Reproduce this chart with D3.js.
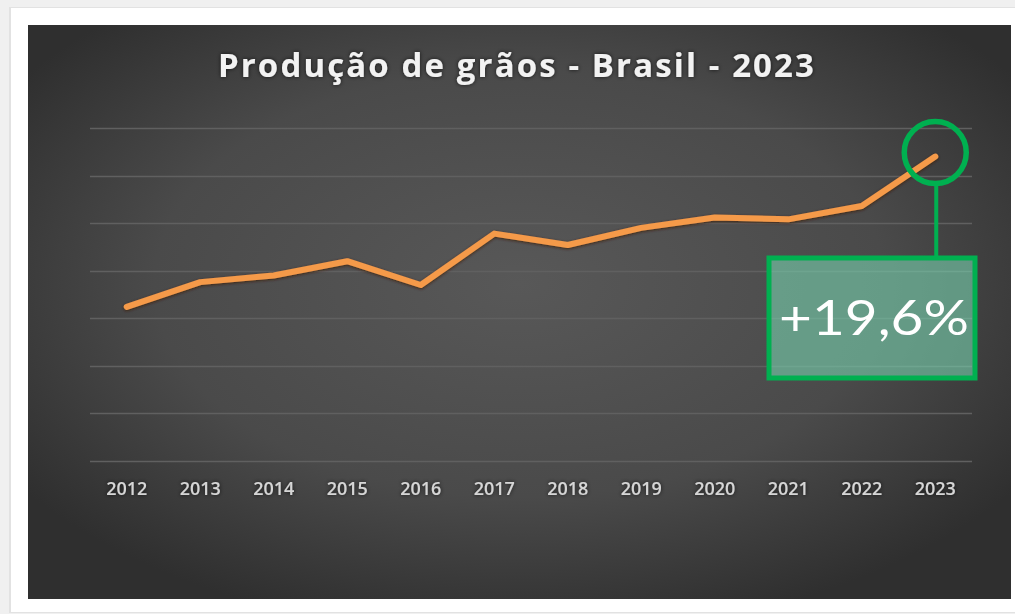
<!DOCTYPE html>
<html>
<head>
<meta charset="utf-8">
<script src="https://cdn.jsdelivr.net/npm/d3@7"></script>
<style>
  html, body { margin: 0; padding: 0; background: #f0f0f0; }
  svg { display: block; }
</style>
</head>
<body>
<div id="chart"></div>
<script>
// Data (million tonnes, approx.)
var years = ["2012", "2013", "2014", "2015", "2016", "2017", "2018", "2019", "2020", "2021", "2022", "2023"];
var production = [162, 188, 195, 210, 185, 239, 227, 245, 256, 254, 268, 320];
var gridValues = [0, 50, 100, 150, 200, 250, 300, 350];
var title = "Produção de grãos - Brasil - 2023";
var growthLabel = "+19,6%";

var width = 1015, height = 614;

var svg = d3.select("#chart")
  .append("svg")
  .attr("width", width)
  .attr("height", height);

var defs = svg.append("defs");

var bg = defs.append("radialGradient")
  .attr("id", "bgGrad")
  .attr("cx", "50%").attr("cy", "45%").attr("r", "62%");
bg.append("stop").attr("offset", "0%").attr("stop-color", "#585858");
bg.append("stop").attr("offset", "60%").attr("stop-color", "#4a4a4a");
bg.append("stop").attr("offset", "100%").attr("stop-color", "#2f2f2f");

var glow = defs.append("filter").attr("id", "glow")
  .attr("x", "-10%").attr("y", "-30%").attr("width", "120%").attr("height", "160%");
glow.append("feDropShadow")
  .attr("dx", 0).attr("dy", 0).attr("stdDeviation", 2)
  .attr("flood-color", "#000").attr("flood-opacity", 0.7);

var lineShadow = defs.append("filter").attr("id", "lineShadow")
  .attr("x", "-5%").attr("y", "-20%").attr("width", "110%").attr("height", "140%");
lineShadow.append("feDropShadow")
  .attr("dx", 0).attr("dy", 1).attr("stdDeviation", 1.5)
  .attr("flood-color", "#3a1d05").attr("flood-opacity", 0.8);

// page card
svg.append("rect")
  .attr("x", 9).attr("y", 7).attr("width", 1010).attr("height", 606)
  .attr("fill", "#e2e2e2");
svg.append("rect")
  .attr("x", 11).attr("y", 8).attr("width", 1006).attr("height", 604)
  .attr("fill", "#ffffff");

// dark chart area
svg.append("rect")
  .attr("x", 28).attr("y", 25).attr("width", 983).attr("height", 574)
  .attr("fill", "url(#bgGrad)");

var x = d3.scaleBand()
  .domain(years)
  .range([90, 972]);

var y = d3.scaleLinear()
  .domain([0, 350])
  .range([461, 128]);

// gridlines
svg.append("g")
  .selectAll("line")
  .data(gridValues)
  .enter()
  .append("line")
  .attr("x1", 90).attr("x2", 972)
  .attr("y1", function(d) { return Math.round(y(d)) + 0.5; })
  .attr("y2", function(d) { return Math.round(y(d)) + 0.5; })
  .attr("stroke", "#606060")
  .attr("stroke-width", 1.5);

// x axis
var xAxis = svg.append("g")
  .attr("transform", "translate(0," + y(0) + ")")
  .call(d3.axisBottom(x).tickSize(0).tickPadding(34));
xAxis.select(".domain").remove();
xAxis.selectAll("text")
  .attr("fill", "#d6d6d6")
  .attr("font-family", "'Open Sans', sans-serif")
  .attr("font-weight", 600)
  .attr("font-size", 18)
  .attr("dy", 0)
  .attr("filter", "url(#glow)");

// line
var points = years.map(function(d, i) { return { year: d, value: production[i] }; });
var line = d3.line()
  .x(function(d) { return x(d.year) + x.bandwidth() / 2; })
  .y(function(d) { return y(d.value); });

svg.append("path")
  .datum(points)
  .attr("d", line)
  .attr("fill", "none")
  .attr("stroke", "#f59a4a")
  .attr("stroke-width", 6)
  .attr("stroke-linecap", "round")
  .attr("stroke-linejoin", "round")
  .attr("filter", "url(#lineShadow)");

// title
var titleText = svg.append("text")
  .attr("x", 517)
  .attr("y", 77)
  .attr("text-anchor", "middle")
  .attr("fill", "#f2f2f2")
  .attr("font-family", "'Open Sans', sans-serif")
  .attr("font-weight", 700)
  .attr("font-size", 33)
  .attr("filter", "url(#glow)")
  .text(title);
var natural = titleText.node().getComputedTextLength();
titleText.attr("letter-spacing", ((596 - natural) / (title.length - 1)) + "px");

// annotation on the last point
var last = points[points.length - 1];
var cx = x(last.year) + x.bandwidth() / 2;
var cy = y(last.value) - 4;
var green = "#00b050";

svg.append("circle")
  .attr("cx", cx).attr("cy", cy).attr("r", 31)
  .attr("fill", "none")
  .attr("stroke", green)
  .attr("stroke-width", 5.5);

svg.append("line")
  .attr("x1", cx + 1).attr("x2", cx + 1)
  .attr("y1", cy + 33).attr("y2", 257)
  .attr("stroke", green)
  .attr("stroke-width", 4);

svg.append("rect")
  .attr("x", 769).attr("y", 258)
  .attr("width", 206).attr("height", 120)
  .attr("fill", "rgba(120,210,175,0.6)")
  .attr("stroke", green)
  .attr("stroke-width", 5);

svg.append("text")
  .attr("x", 874)
  .attr("y", 335)
  .attr("text-anchor", "middle")
  .attr("fill", "#ffffff")
  .attr("font-family", "'Lato', 'Open Sans', sans-serif")
  .attr("font-size", 48)
  .attr("textLength", 190)
  .attr("lengthAdjust", "spacingAndGlyphs")
  .text(growthLabel);
</script>
</body>
</html>
